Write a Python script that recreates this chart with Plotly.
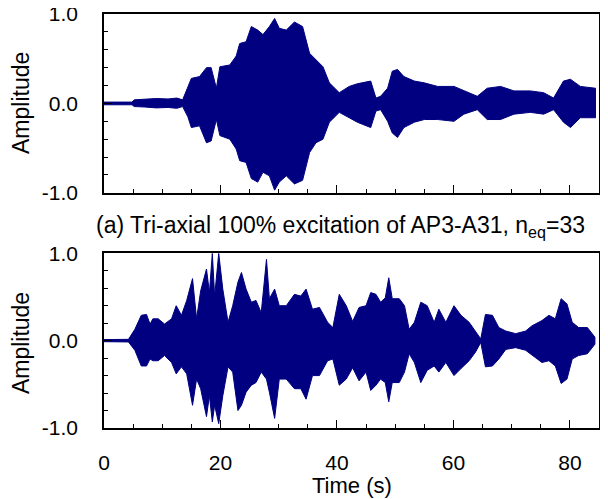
import plotly.graph_objects as go

# ---- Data (envelope of the excitation records) ----
# Panel (a): tri-axial 100% excitation of AP3-A31
time_a = [0, 4.8, 5.2, 7, 9, 11, 12.5, 13.5, 14.4, 15, 16.4, 17.6, 18.4, 19.3, 19.9,
          21.6, 22.7, 23.3, 24.4, 25.3, 26.4, 27.3, 28.4, 29.3, 30.1, 31.3, 32.7,
          34.1, 35.3, 36.4, 37.6, 38.7, 40.4, 42.1, 43.5, 45.8, 46.7, 47.5, 48.7,
          49.5, 50.4, 51.5, 53.3, 55.0, 57.3, 60.1, 61.8, 64.1, 65.8, 68.1, 70.4,
          73.2, 75.5, 77.2, 78.9, 80.1, 81.8, 84.4]
upper_a = [0.015, 0.015, 0.04, 0.05, 0.055, 0.05, 0.06, 0.04, 0.19, 0.28, 0.30, 0.40,
           0.40, 0.17, 0.41, 0.43, 0.53, 0.67, 0.69, 0.86, 0.82, 0.77, 0.86, 0.95,
           0.84, 0.82, 0.91, 0.86, 0.56, 0.49, 0.41, 0.23, 0.12, 0.19, 0.22, 0.25,
           0.06, 0.08, 0.17, 0.36, 0.38, 0.30, 0.25, 0.23, 0.19, 0.19, 0.14, 0.08,
           0.17, 0.19, 0.14, 0.14, 0.12, 0.06, 0.25, 0.27, 0.19, 0.17]
lower_a = [-0.015, -0.015, -0.035, -0.04, -0.05, -0.045, -0.055, -0.035, -0.15, -0.27,
           -0.25, -0.44, -0.42, -0.18, -0.36, -0.40, -0.51, -0.64, -0.66, -0.84, -0.88,
           -0.77, -0.81, -0.97, -0.88, -0.81, -0.90, -0.86, -0.55, -0.44, -0.40, -0.21,
           -0.10, -0.16, -0.21, -0.27, -0.085, -0.07, -0.20, -0.33, -0.38, -0.27, -0.21,
           -0.18, -0.18, -0.20, -0.12, -0.07, -0.18, -0.18, -0.12, -0.10, -0.12, -0.07,
           -0.21, -0.27, -0.16, -0.16]

# Panel (b)
time_b = [0, 4.2, 5.3, 6.4, 7.3, 7.9, 8.4, 9.3, 10.4, 11.6, 12.4, 13.3, 14.2, 15.2,
          15.9, 16.6, 17.6, 18.1, 18.6, 19.0, 19.7, 20.4, 21.3, 22.1, 23.0, 23.6,
          24.4, 25.3, 26.1, 27.0, 27.9, 28.4, 29.3, 30.1, 31.3, 32.7, 33.8, 34.7,
          35.8, 37.0, 38.4, 39.3, 40.4, 41.6, 42.7, 43.8, 45.0, 45.8, 46.7, 47.5,
          48.3, 48.9, 49.5, 50.7, 51.6, 52.4, 53.3, 54.4, 55.5, 56.7, 57.5, 58.7,
          60.1, 61.3, 62.7, 63.8, 64.7, 65.5, 66.7, 67.8, 69.0, 70.7, 72.4, 73.5,
          75.2, 76.4, 77.5, 78.5, 79.5, 80.4, 81.5, 83.0, 84.3]
upper_b = [0.012, 0.015, 0.13, 0.29, 0.30, 0.19, 0.25, 0.25, 0.19, 0.25, 0.40, 0.29,
           0.46, 0.71, 0.25, 0.57, 0.82, 0.55, 1.0, 0.51, 1.0, 0.59, 0.21, 0.40, 0.67,
           0.78, 0.59, 0.44, 0.46, 0.32, 0.93, 0.48, 0.59, 0.40, 0.40, 0.53, 0.51,
           0.59, 0.36, 0.38, 0.21, 0.15, 0.53, 0.40, 0.22, 0.38, 0.40, 0.55, 0.53,
           0.44, 0.49, 0.72, 0.48, 0.48, 0.40, 0.13, 0.21, 0.44, 0.40, 0.21, 0.36,
           0.21, 0.40, 0.29, 0.21, 0.10, 0.02, 0.30, 0.29, 0.15, 0.11, 0.08, 0.11,
           0.17, 0.23, 0.29, 0.25, 0.48, 0.42, 0.21, 0.15, 0.15, 0.04]
lower_b = [-0.012, -0.015, -0.11, -0.29, -0.29, -0.21, -0.23, -0.23, -0.17, -0.25,
           -0.38, -0.30, -0.38, -0.74, -0.44, -0.55, -0.87, -0.63, -0.93, -0.74, -0.95,
           -0.63, -0.30, -0.36, -0.80, -0.74, -0.59, -0.51, -0.48, -0.36, -0.44, -0.59,
           -0.89, -0.44, -0.44, -0.55, -0.55, -0.67, -0.40, -0.40, -0.23, -0.21, -0.51,
           -0.44, -0.31, -0.46, -0.36, -0.57, -0.51, -0.44, -0.48, -0.70, -0.48, -0.48,
           -0.36, -0.15, -0.25, -0.48, -0.34, -0.29, -0.36, -0.25, -0.40, -0.32, -0.23,
           -0.13, -0.02, -0.30, -0.29, -0.21, -0.10, -0.08, -0.11, -0.17, -0.25, -0.23,
           -0.29, -0.49, -0.44, -0.21, -0.17, -0.15, -0.04]

y_tickvals = [-1.0, 0.0, 1.0]
y_ticktext = ["-1.0", "0.0", "1.0"]
x_tickvals = [0, 20, 40, 60, 80]
x_ticktext = ["0", "20", "40", "60", "80"]

caption = "(a) Tri-axial 100% excitation of AP3-A31, n<sub>eq</sub>=33"

NAVY = "#000080"
FONT = "Arial, Liberation Sans, sans-serif"

fig = go.Figure()


def band(t, up, lo, xa, ya):
    xs = list(t) + list(t)[::-1]
    ys = list(up) + list(lo)[::-1]
    return go.Scatter(x=xs, y=ys, xaxis=xa, yaxis=ya, mode="lines",
                      fill="toself", fillcolor=NAVY,
                      line=dict(color=NAVY, width=1), showlegend=False,
                      hoverinfo="skip")


fig.add_trace(band(time_a, upper_a, lower_a, "x", "y"))
fig.add_trace(band(time_b, upper_b, lower_b, "x2", "y2"))

axis_common = dict(showline=True, linecolor="black", linewidth=1.5, mirror=True,
                   showgrid=False, zeroline=False, ticks="inside", automargin=False,
                   tickcolor="black", tickwidth=1, ticklabeloverflow="allow",
                   tickfont=dict(family=FONT, size=21, color="black"))

xcommon = dict(axis_common, range=[0, 85], tickvals=x_tickvals, ticklen=8,
               minor=dict(dtick=5, ticks="inside", ticklen=4, tickcolor="black",
                          tickwidth=1, showgrid=False))
ycommon = dict(axis_common, range=[-1, 1], tickvals=y_tickvals, ticktext=y_ticktext,
               ticklen=8, ticklabelstandoff=20,
               minor=dict(dtick=0.2, ticks="inside", ticklen=4, tickcolor="black",
                          tickwidth=1, showgrid=False))

# The page adds an 8px body margin, so the figure is sized 8px smaller.
fig.update_layout(
    width=600, height=491,
    margin=dict(l=96, r=9, t=6, b=71, autoexpand=False),
    paper_bgcolor="white", plot_bgcolor="white",
    font=dict(family=FONT, size=21, color="black"),
    xaxis=dict(xcommon, domain=[0, 1], anchor="y", showticklabels=False),
    yaxis=dict(ycommon, domain=[0.568, 1.0], anchor="x"),
    xaxis2=dict(xcommon, domain=[0, 1], anchor="y2", ticktext=x_ticktext,
                ticklabelstandoff=15),
    yaxis2=dict(ycommon, domain=[0.0, 0.422], anchor="x2"),
    annotations=[
        dict(text="Amplitude", textangle=-90, x=-0.1677, y=0.785, xref="paper",
             yref="paper", xanchor="center", yanchor="middle", showarrow=False,
             font=dict(family=FONT, size=23)),
        dict(text="Amplitude", textangle=-90, x=-0.1677, y=0.205, xref="paper",
             yref="paper", xanchor="center", yanchor="middle", showarrow=False,
             font=dict(family=FONT, size=23)),
        dict(text=caption, x=0.477, y=0.486, xref="paper", yref="paper",
             xanchor="center", yanchor="middle", showarrow=False,
             font=dict(family=FONT, size=23)),
        dict(text="Time (s)", x=0.50, y=-0.140, xref="paper", yref="paper",
             xanchor="center", yanchor="middle", showarrow=False,
             font=dict(family=FONT, size=22)),
    ],
)

fig.write_html("out.html")
